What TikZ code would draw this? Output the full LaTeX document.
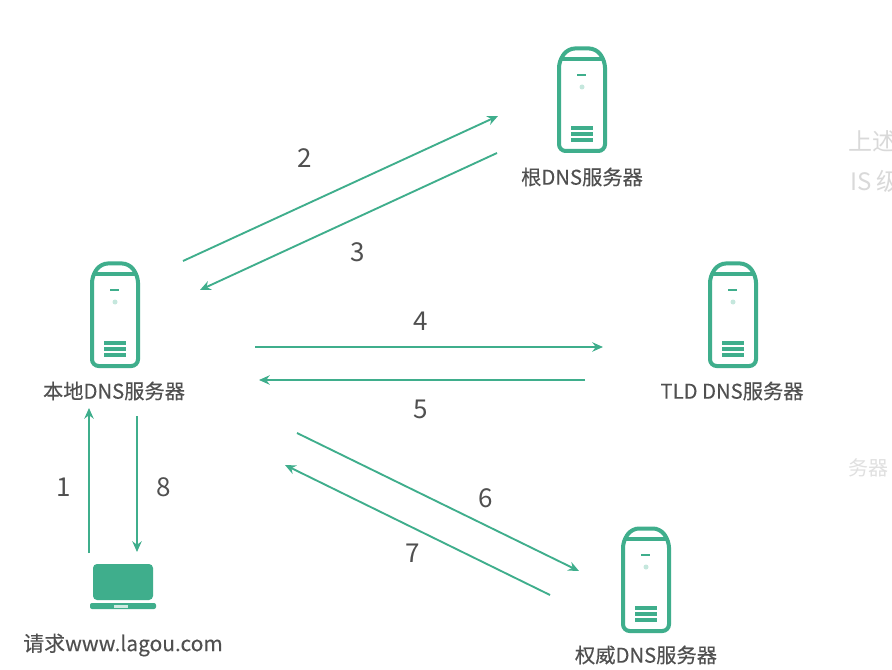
\documentclass[tikz,border=0pt]{standalone}
\usepackage{fontspec}
\setmainfont[FakeBold=0.25]{Noto Sans CJK SC}
\newfontfamily\plainf{Noto Sans CJK SC}
\usetikzlibrary{arrows.meta}
\definecolor{gr}{HTML}{3FAE8C}
\definecolor{lb}{HTML}{505050}
\tikzset{
  x=0.75pt,y=-0.75pt,
  flow/.style={draw=gr,line width=1.4pt,-{Stealth[length=8pt,width=7pt]}},
  lbl/.style={text=lb,font=\fontsize{15.2pt}{16pt}\selectfont,inner sep=0pt},
  num/.style={text=lb,font=\plainf\fontsize{19.5pt}{20pt}\selectfont,inner sep=0pt},
  ghost/.style={text=black!15,font=\plainf\fontsize{18pt}{20pt}\selectfont,inner sep=0pt,anchor=west},
  server/.pic={
    \draw[gr,line width=3pt,rounded corners=5pt,fill=white]
      (-23,15) -- (-14,2.5) -- (14,2.5) -- (23,15) -- (23,105) -- (-23,105) -- cycle;
    \draw[gr,line width=2.4pt] (-21,13) -- (21,13);
    \draw[gr,line width=2pt] (-5,29) -- (4,29);
    \fill[gr!30] (0,41) circle (2.5);
    \foreach \yy in {82,88,94}{\draw[gr,line width=2.4pt] (-11,\yy) -- (11,\yy);}
  },
  laptop/.pic={
    \fill[gr,rounded corners=3pt] (-30,0) rectangle (30,36);
    \fill[gr,rounded corners=1.5pt] (-33,39) rectangle (33,45);
    \fill[white!75!gr] (-9,40.5) rectangle (5,44);
  }
}
\begin{document}
\begin{tikzpicture}
\useasboundingbox (0,0) rectangle (892,670);
\clip (0,0) rectangle (892,670);
\fill[white] (0,0) rectangle (892,670);

% server icons
\pic at (582,46) {server};
\pic at (115,261) {server};
\pic at (733,261) {server};
\pic at (646,526) {server};
\pic at (123,564) {laptop};

% labels
\node[lbl] (root) at (582,177) {根DNS服务器};
\node[lbl] (local) at (114,391) {本地DNS服务器};
\node[lbl] (tld) at (732,391) {TLD DNS服务器};
\node[lbl] (auth) at (646,655) {权威DNS服务器};
\node[lbl,font=\fontsize{15.7pt}{16pt}\selectfont] (client) at (123,645) {请求www.lagou.com};

% connector ends
\coordinate (a2s) at (183,261); \coordinate (a2e) at (498,116);
\coordinate (a3s) at (497,153); \coordinate (a3e) at (200,290);
\coordinate (a4s) at (255,347); \coordinate (a4e) at (603,347);
\coordinate (a5s) at (585,380); \coordinate (a5e) at (259,380);
\coordinate (a6s) at (297,433); \coordinate (a6e) at (579,571);
\coordinate (a7s) at (550,595); \coordinate (a7e) at (285,465);
\coordinate (a1s) at (89,553);  \coordinate (a1e) at (89,408);
\coordinate (a8s) at (137,416); \coordinate (a8e) at (137,552);

\draw[flow] (a1s) -- (a1e);
\draw[flow] (a2s) -- (a2e);
\draw[flow] (a3s) -- (a3e);
\draw[flow] (a4s) -- (a4e);
\draw[flow] (a5s) -- (a5e);
\draw[flow] (a6s) -- (a6e);
\draw[flow] (a7s) -- (a7e);
\draw[flow] (a8s) -- (a8e);

% numbers
\node[num] (n1) at (64,487) {1};
\node[num] (n2) at (305,158) {2};
\node[num] (n3) at (358,252) {3};
\node[num] (n4) at (421,321.5) {4};
\node[num] (n5) at (421,409.5) {5};
\node[num] (n6) at (486,498) {6};
\node[num] (n7) at (413,553) {7};
\node[num] (n8) at (164,487) {8};

% faint text from the surrounding page
\node[ghost] (g1) at (848,141) {上述};
\node[ghost] (g2) at (850,181) {IS 级};
\node[ghost,text=black!12,font=\plainf\fontsize{15pt}{16pt}\selectfont] (g3) at (848,468) {务器};
\end{tikzpicture}
\end{document}
